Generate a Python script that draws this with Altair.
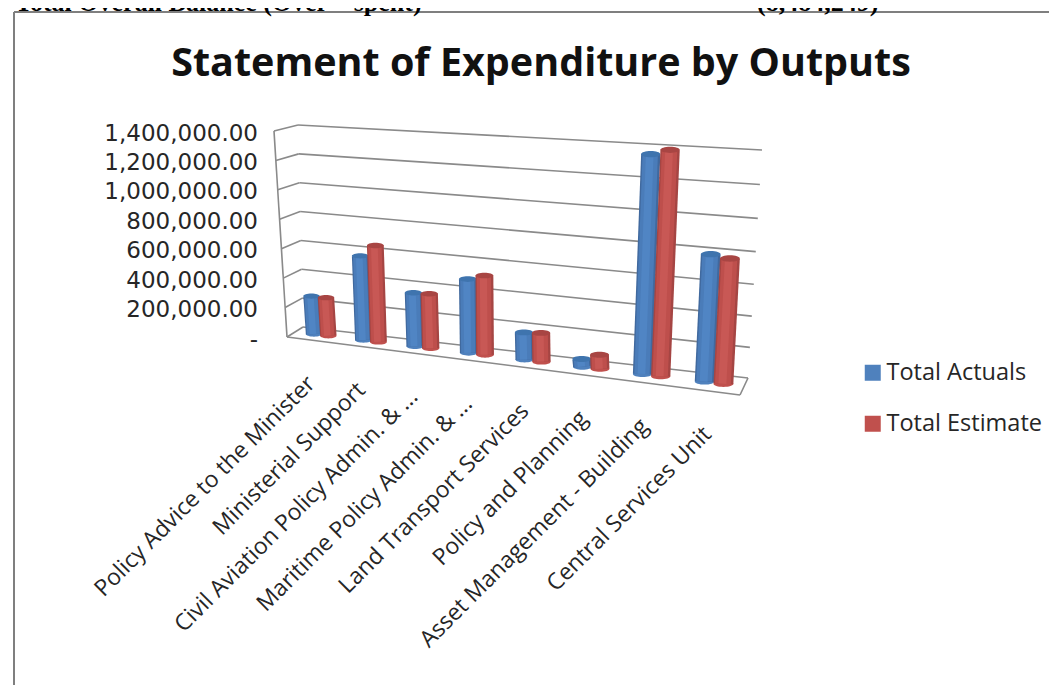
import altair as alt
import pandas as pd

categories = ["Policy Advice to the Minister", "Ministerial Support", "Civil Aviation Policy Admin. & ...",
              "Maritime Policy Admin. & ...", "Land Transport Services", "Policy and Planning",
              "Asset Management - Building", "Central Services Unit"]
total_actuals = [260000, 570000, 360000, 490000, 180000, 50000, 1368000, 800000]
total_estimate = [260000, 650000, 365000, 525000, 190000, 93000, 1400000, 785000]
series_names = ["Total Actuals", "Total Estimate"]
tick_values = [0, 200000, 400000, 600000, 800000, 1000000, 1200000, 1400000]
top_left = "Total Overall Balance (Over – spent)"
top_right = "(8,484,249)"
title = "Statement of Expenditure by Outputs"
MAXV = 1400000

# 3D frame corners of the chart box on the page: (x, y)
BACK = dict(lb=(303, 327), lt=(298, 125), rb=(748, 378), rt=(762, 150))
FRONT = dict(lb=(287, 337), lt=(274, 131), rb=(740, 395), rt=(756, 160))


def project(u, v, d):
    """u along categories, v value share, d depth (0 front, 1 back) to page coordinates."""
    f = u - 0.15 * u * (1 - u)
    g = v - 0.07 * f * v * (1 - v)
    def wall(c, i):
        bottom = c["lb"][i] + (c["rb"][i] - c["lb"][i]) * f
        top = c["lt"][i] + (c["rt"][i] - c["lt"][i]) * f
        return bottom + (top - bottom) * g
    return (wall(FRONT, 0) + (wall(BACK, 0) - wall(FRONT, 0)) * d,
            wall(FRONT, 1) + (wall(BACK, 1) - wall(FRONT, 1)) * d)


W, H = 1041, 677
xs = alt.Scale(domain=[8, 8 + W], range=[0, W])
ys = alt.Scale(domain=[8, 8 + H], range=[0, H])
X = lambda f="x": alt.X(f"{f}:Q", scale=xs, axis=None)
Y = lambda f="y": alt.Y(f"{f}:Q", scale=ys, axis=None)


def seg(p, q):
    return {"x": p[0], "y": p[1], "x2": q[0], "y2": q[1]}


# frame lines
frame = []
for t in tick_values:
    v = t / MAXV
    frame.append(seg(project(0, v, 1), project(1, v, 1)))
    frame.append(seg(project(0, v, 0), project(0, v, 1)))
frame.append(seg(project(0, 0, 0), project(0, 1, 0)))
frame.append(seg(project(0, 0, 0), project(1, 0, 0)))
frame.append(seg(project(1, 0, 0), project(1, 0, 1)))
grid = alt.Chart(pd.DataFrame(frame)).mark_rule(color="#8a8a8a", strokeWidth=1.6).encode(
    x=X(), y=Y(), x2="x2:Q", y2="y2:Q")

# page border
border = alt.Chart(pd.DataFrame([seg((14, 12), (1057, 12)), seg((14, 12), (14, 693))])).mark_rule(
    color="#7f7f7f", strokeWidth=2).encode(x=X(), y=Y(), x2="x2:Q", y2="y2:Q")

ELLIPSE = "M-1,0A1,0.32 0 1,1 1,0A1,0.32 0 1,1 -1,0Z"
SHADES = {"Total Actuals": ("#4F81BD", "#40699E", "#4A7CB9", "#5085C4", "#3F74AE"),
          "Total Estimate": ("#C0504D", "#A54543", "#BE4F4C", "#C85855", "#A84543")}

color = alt.Color("s:N", scale=alt.Scale(domain=series_names, range=[SHADES[n][0] for n in series_names]),
                  legend=alt.Legend(title=None, orient="none", legendX=853, legendY=353, symbolType="square",
                                    symbolSize=256, symbolStrokeWidth=0, labelFont="Open Sans", labelFontSize=23.5,
                                    labelColor="#262626", rowPadding=26, labelOffset=2))

layers = [border, grid]
for k, (name, vals) in enumerate(zip(series_names, [total_actuals, total_estimate])):
    sign = -1 if k == 0 else 1
    base, dark, mid, light, cap = [], [], [], [], []
    for i, val in enumerate(vals):
        u = (i + 0.5) / len(vals) + sign * 0.0185
        v = val / MAXV
        width = 16 + 4 * u
        b = project(u, 0, 0.5)
        t = project(u, v, 0.5)
        b = (b[0] + 2, b[1])
        t = (t[0] + 1, t[1])
        base.append({"x": b[0], "y": b[1], "s": name, "size": width ** 2})
        dark.append({**seg(b, t), "w": width})
        mid.append({**seg((b[0] - 0.5, b[1]), (t[0] - 0.5, t[1])), "w": width * 0.8})
        light.append({**seg((b[0] - 1, b[1]), (t[0] - 1, t[1])), "w": width * 0.4})
        cap.append({"x": t[0], "y": t[1], "size": width ** 2})
    layers.append(alt.Chart(pd.DataFrame(base)).mark_point(shape=ELLIPSE, filled=True, opacity=1, strokeWidth=0).encode(
        x=X(), y=Y(), color=color, size=alt.Size("size:Q", scale=None)))
    for rows, col in ((dark, SHADES[name][1]), (mid, SHADES[name][2]), (light, SHADES[name][3])):
        layers.append(alt.Chart(pd.DataFrame(rows)).mark_rule(color=col, strokeCap="butt").encode(
            x=X(), y=Y(), x2="x2:Q", y2="y2:Q", strokeWidth=alt.StrokeWidth("w:Q", scale=None)))
    layers.append(alt.Chart(pd.DataFrame(cap)).mark_point(shape=ELLIPSE, filled=True, opacity=1, strokeWidth=0,
                                                          color=SHADES[name][4]).encode(
        x=X(), y=Y(), size=alt.Size("size:Q", scale=None)))

# value labels
tick_rows = [{"x": 258, "y": project(0, t / MAXV, 0)[1] + 2.5, "t": ("-" if t == 0 else f"{t:,.2f}")} for t in tick_values]
layers.append(alt.Chart(pd.DataFrame(tick_rows)).mark_text(align="right", baseline="middle", font="DejaVu Sans",
                                                           fontSize=23, color="#262626").encode(
    x=X(), y=Y(), text="t:N"))

# category labels
cat_rows = []
for i, c in enumerate(categories):
    p = project((i + 0.5) / len(categories), 0, 0)
    cat_rows.append({"x": p[0], "y": p[1] + 40, "t": c})
layers.append(alt.Chart(pd.DataFrame(cat_rows)).mark_text(align="right", baseline="middle", angle=315,
                                                          font="Open Sans", fontSize=23, color="#262626").encode(
    x=X(), y=Y(), text="t:N"))

# title and the line above the frame, cropped by the top of the page as in the source picture
layers.append(alt.Chart(pd.DataFrame([{"x": 541, "y": 64, "t": title}])).mark_text(
    align="center", baseline="middle", font="Open Sans", fontWeight="bold", fontSize=39.5, color="#111111").encode(
    x=X(), y=Y(), text="t:N"))
layers.append(alt.Chart(pd.DataFrame([{"x": 15, "y": 11, "t": top_left}, {"x": 757, "y": 11, "t": top_right}])).mark_text(
    align="left", baseline="alphabetic", font="Liberation Serif", fontWeight="bold", fontSize=26, color="#000000").encode(
    x=X(), y=Y(), text="t:N"))

chart = alt.layer(*layers).properties(
    width=W, height=H, padding=0, autosize=alt.AutoSizeParams(type="none"), background="white"
).configure_view(stroke=None)
chart.save("out.html", embed_options={"renderer": "svg", "actions": False})
